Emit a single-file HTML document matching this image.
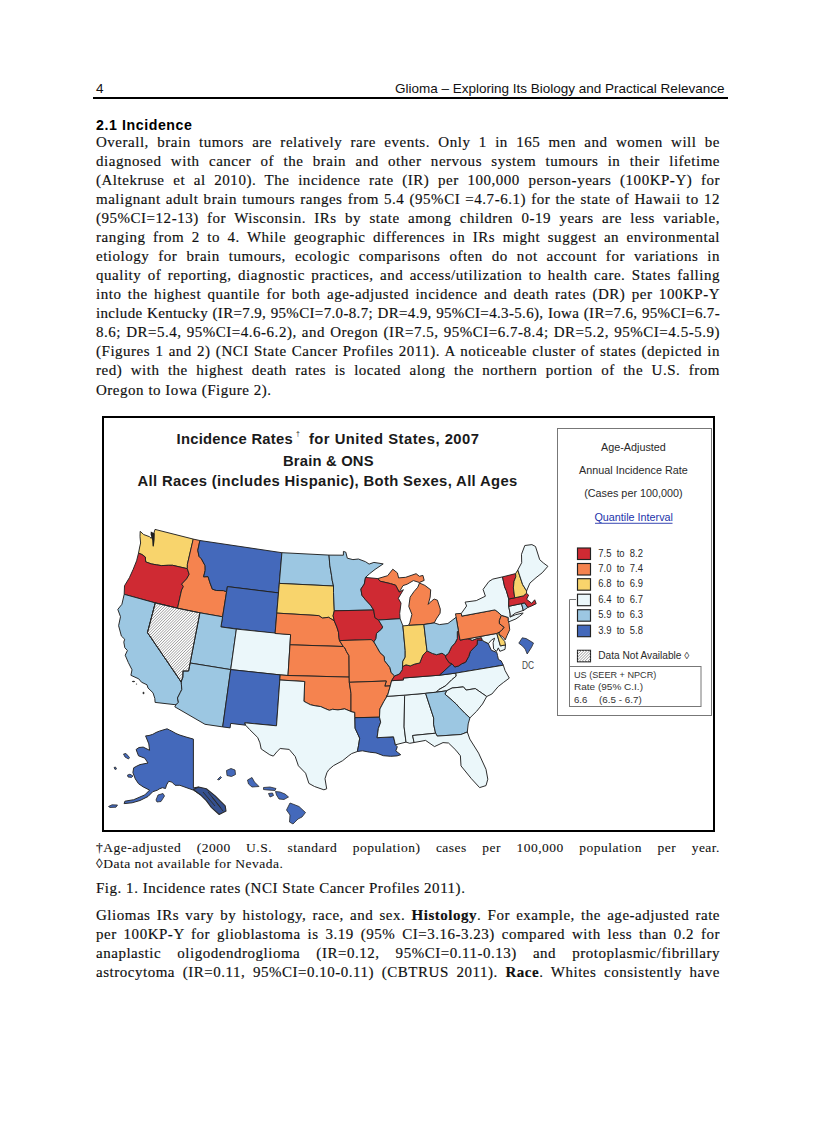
<!DOCTYPE html>
<html><head><meta charset="utf-8">
<style>
html,body{margin:0;padding:0;background:#fff;}
body{width:816px;height:1123px;position:relative;overflow:hidden;}
.a{position:absolute;white-space:nowrap;}
.hdr{font-family:"Liberation Sans",sans-serif;font-size:13.5px;color:#111;}
.rule{position:absolute;left:93px;top:97px;width:635px;height:1.8px;background:#000;}
.h2{font-family:"Liberation Sans",sans-serif;font-weight:bold;font-size:14.2px;letter-spacing:0.57px;}
.body{-webkit-text-stroke:0.15px #000;font-family:"Liberation Serif",serif;font-size:15.0px;letter-spacing:0.52px;color:#111;}
.j{position:absolute;left:96px;width:624px;white-space:nowrap;text-align:justify;text-align-last:justify;}
.fn{-webkit-text-stroke:0.08px #000;font-family:"Liberation Serif",serif;font-size:13.5px;letter-spacing:0.5px;color:#111;}
.fig{position:absolute;left:102px;top:416px;width:612.5px;height:416px;box-sizing:border-box;border:2px solid #000;}
svg{position:absolute;left:0;top:0;}
</style></head><body>
<div class="a hdr" style="left:96px;top:80.5px;">4</div>
<div class="a hdr" style="left:395px;top:81.2px;">Glioma – Exploring Its Biology and Practical Relevance</div>
<div class="rule"></div>
<div class="a h2" style="left:96px;top:116.5px;">2.1 Incidence</div>
<div class="body">
<div class="j" style="top:133.73px;">Overall, brain tumors are relatively rare events. Only 1 in 165 men and women will be</div>
<div class="j" style="top:152.79px;">diagnosed with cancer of the brain and other nervous system tumours in their lifetime</div>
<div class="j" style="top:171.85px;">(Altekruse et al 2010). The incidence rate (IR) per 100,000 person-years (100KP-Y) for</div>
<div class="j" style="top:190.91px;">malignant adult brain tumours ranges from 5.4 (95%CI =4.7-6.1) for the state of Hawaii to 12</div>
<div class="j" style="top:209.97px;">(95%CI=12-13) for Wisconsin. IRs by state among children 0-19 years are less variable,</div>
<div class="j" style="top:229.03px;">ranging from 2 to 4. While geographic differences in IRs might suggest an environmental</div>
<div class="j" style="top:248.09px;">etiology for brain tumours, ecologic comparisons often do not account for variations in</div>
<div class="j" style="top:267.15px;">quality of reporting, diagnostic practices, and access/utilization to health care. States falling</div>
<div class="j" style="top:286.21px;">into the highest quantile for both age-adjusted incidence and death rates (DR) per 100KP-Y</div>
<div class="j" style="top:305.27px;letter-spacing:0.34px;">include Kentucky (IR=7.9, 95%CI=7.0-8.7; DR=4.9, 95%CI=4.3-5.6), Iowa (IR=7.6, 95%CI=6.7-</div>
<div class="j" style="top:324.33px;">8.6; DR=5.4, 95%CI=4.6-6.2), and Oregon (IR=7.5, 95%CI=6.7-8.4; DR=5.2, 95%CI=4.5-5.9)</div>
<div class="j" style="top:343.39px;">(Figures 1 and 2) (NCI State Cancer Profiles 2011). A noticeable cluster of states (depicted in</div>
<div class="j" style="top:362.45px;">red) with the highest death rates is located along the northern portion of the U.S. from</div>
<div class="a" style="top:381.51px;left:96px;">Oregon to Iowa (Figure 2).</div>
</div>
<div class="fig"></div>
<svg width="816" height="1123" viewBox="0 0 816 1123">
<defs>
<pattern id="hatch" patternUnits="userSpaceOnUse" width="2" height="4" patternTransform="rotate(45) scale(1.0)">
<rect width="2" height="4" fill="#fff"/><rect width="0.8" height="4" fill="#8c8c8c"/>
</pattern>
</defs>
<g stroke="#222" stroke-width="0.95" stroke-linejoin="round">
<path fill="#f8d46c" d="M140.2,531.3 143.6,534.5 149.5,536.7 151.2,538.3 153.3,535.2 155.0,529.4 193.3,539.1 187.4,564.3 187.3,568.7 172.6,565.3 168.2,565.3 161.3,565.6 156.3,564.8 151.2,563.9 145.7,561.9 145.3,557.0 141.9,554.5 138.5,553.2 139.7,547.0 140.6,543.0 140.0,536.5 140.2,531.3Z"/>
<path fill="#cf2a33" d="M138.5,553.2 141.9,554.5 145.3,557.0 145.7,561.9 151.2,563.9 156.3,564.8 161.3,565.6 168.2,565.3 172.6,565.3 187.3,568.7 189.2,574.3 186.6,578.9 181.7,584.1 183.4,586.6 181.6,590.0 177.5,608.2 155.3,602.9 124.2,594.3 124.5,585.8 129.4,577.7 133.2,569.3 136.6,560.8 138.5,553.2Z"/>
<path fill="#9cc7e2" d="M124.2,594.3 155.3,602.9 147.5,632.6 181.3,682.1 181.4,684.2 181.8,689.5 180.4,692.3 177.5,698.0 178.4,702.3 176.0,704.8 155.1,702.4 154.8,698.4 153.0,692.8 148.0,688.0 147.0,684.8 141.5,682.2 138.8,678.9 130.9,675.3 132.0,669.8 128.3,662.5 125.2,655.2 127.4,650.5 124.8,647.7 123.8,642.1 124.7,639.2 121.4,636.1 118.6,625.7 120.5,616.7 117.8,609.4 121.9,604.3 124.2,594.3Z"/>
<path fill="url(#hatch)" d="M155.3,602.9 177.5,608.2 199.9,612.8 188.6,671.0 183.0,671.0 182.8,677.2 181.4,681.1 181.3,682.1 147.5,632.6Z"/>
<path fill="#f5834f" d="M193.2,539.1 199.9,540.5 197.8,550.3 199.0,556.3 201.4,558.8 205.1,565.7 205.2,570.4 203.6,576.8 208.1,576.6 209.9,582.6 212.4,589.2 216.7,590.5 223.4,590.6 226.6,591.7 222.6,616.8 199.9,612.8 177.5,608.2 181.6,590.0 183.4,586.6 181.7,584.1 186.6,578.9 189.2,574.3 187.3,568.7 187.4,564.3Z"/>
<path fill="#4469bb" d="M199.9,540.5 281.9,552.7 278.5,592.9 227.4,586.6 226.6,591.7 223.4,590.6 216.7,590.5 212.4,589.2 209.9,582.6 208.1,576.6 203.6,576.8 205.2,570.4 205.1,565.7 201.4,558.8 199.0,556.3 197.8,550.3Z"/>
<path fill="#4469bb" d="M227.4,586.6 278.5,592.9 276.8,613.1 275.1,633.5 220.9,626.9 222.6,616.8 226.6,591.7Z"/>
<path fill="#9cc7e2" d="M199.9,612.8 222.6,616.8 220.9,626.9 236.4,629.1 230.7,669.6 190.1,663.0Z"/>
<path fill="#ebf7fa" d="M236.4,629.1 290.6,634.6 288.0,675.5 280.2,674.9 230.7,669.6Z"/>
<path fill="#9cc7e2" d="M190.1,663.0 230.7,669.6 222.7,726.9 205.0,724.3 174.8,706.8 176.0,704.8 178.4,702.3 177.5,698.0 180.4,692.3 181.8,689.5 181.4,684.2 181.3,682.1 181.4,681.1 182.8,677.2 183.0,671.0 188.6,671.0Z"/>
<path fill="#4469bb" d="M230.7,669.6 280.2,674.9 279.8,680.0 276.5,725.8 244.8,722.8 245.6,725.2 230.7,723.4 230.1,727.9 222.7,726.9Z"/>
<path fill="#9cc7e2" d="M281.9,552.7 329.0,555.1 329.8,565.2 331.5,575.2 332.2,580.3 333.5,586.0 279.3,583.4Z"/>
<path fill="#f8d46c" d="M279.3,583.4 333.5,586.0 333.5,592.5 334.3,610.8 333.1,615.8 334.3,620.9 328.6,617.3 322.5,618.1 318.7,615.6 276.8,613.1Z"/>
<path fill="#f5834f" d="M276.8,613.1 318.7,615.6 322.5,618.1 328.6,617.3 334.3,620.9 336.9,627.1 338.5,632.2 338.9,637.3 339.5,640.6 343.3,646.5 290.0,644.8 290.6,634.6 275.1,633.5Z"/>
<path fill="#f5834f" d="M290.0,644.8 343.3,646.5 344.9,648.0 346.5,651.6 349.0,655.7 349.2,677.1 288.0,675.5Z"/>
<path fill="#f5834f" d="M280.2,674.9 288.0,675.5 349.2,677.1 349.3,682.3 351.0,693.5 351.0,711.5 344.7,708.9 337.9,709.9 332.7,709.3 329.3,710.3 324.2,708.2 320.8,706.6 315.6,705.9 310.6,704.8 307.2,703.1 303.9,701.3 304.7,681.5 279.8,680.0Z"/>
<path fill="#ebf7fa" d="M279.8,680.0 304.7,681.5 303.9,701.3 307.2,703.1 310.6,704.8 315.6,705.9 320.8,706.6 324.2,708.2 329.3,710.3 332.7,709.3 337.9,709.9 344.7,708.9 351.0,711.5 354.8,712.3 354.9,717.7 355.1,728.2 357.4,733.2 359.7,738.2 358.6,745.3 357.4,751.5 351.6,753.6 348.9,755.6 342.6,760.7 333.4,765.7 328.8,769.7 326.9,772.7 325.0,778.7 326.7,788.8 323.9,789.8 314.5,786.5 308.9,783.4 305.6,773.2 298.4,765.8 295.2,756.5 289.2,749.4 280.2,748.5 277.3,751.3 273.3,756.1 269.8,754.8 261.2,749.0 259.9,742.8 257.7,737.5 249.6,729.5 245.6,725.2 244.8,722.8 276.5,725.8Z"/>
<path fill="#9cc7e2" d="M329.0,555.1 343.4,555.2 343.4,551.4 345.8,552.2 347.3,558.2 352.9,559.6 358.4,559.0 365.5,561.7 369.1,564.1 373.9,562.4 383.2,563.9 375.1,569.4 369.6,573.7 365.5,577.4 364.3,584.0 360.9,589.1 361.9,595.2 365.0,599.2 370.5,605.1 373.7,610.0 334.3,610.8 333.5,592.5 333.5,586.0 332.2,580.3 331.5,575.2 329.8,565.2Z"/>
<path fill="#cf2a33" d="M334.3,610.8 373.7,610.0 374.9,617.6 378.5,620.0 382.7,626.9 381.7,629.0 376.5,633.4 376.0,638.5 373.9,641.9 371.2,639.6 339.5,640.6 338.9,637.3 338.5,632.2 336.9,627.1 334.3,620.9 333.1,615.8Z"/>
<path fill="#f5834f" d="M339.5,640.6 371.2,639.6 373.9,641.9 377.3,647.7 380.0,652.6 384.3,656.5 384.5,660.6 389.9,667.5 391.1,672.5 394.6,675.9 391.6,680.7 390.3,685.9 384.8,686.2 386.3,681.0 349.3,682.3 349.2,677.1 349.0,655.7 346.5,651.6 344.9,648.0 343.3,646.5Z"/>
<path fill="#f5834f" d="M349.3,682.3 386.3,681.0 384.8,686.2 390.3,685.9 387.6,695.3 383.8,701.6 379.9,709.0 379.5,717.2 354.9,717.7 354.8,712.3 351.0,711.5 351.0,693.5Z"/>
<path fill="#4469bb" d="M354.9,717.7 379.5,717.2 380.7,722.2 378.4,728.4 377.1,737.7 393.5,736.8 395.4,744.8 397.3,746.8 395.8,750.9 400.7,754.7 397.1,755.9 390.7,756.3 383.4,755.7 376.0,752.9 369.6,752.2 362.4,750.8 357.4,751.5 358.6,745.3 359.7,738.2 357.4,733.2 355.1,728.2Z"/>
<path fill="#ebf7fa" d="M386.0,696.4 403.7,695.2 404.6,696.2 404.1,726.9 406.0,742.1 395.4,744.8 393.5,736.8 377.1,737.7 378.4,728.4 380.7,722.2 379.5,717.2 379.9,709.0 383.8,701.6 387.6,695.3Z"/>
<path fill="#ebf7fa" d="M403.7,695.2 425.6,693.3 433.7,718.1 433.6,724.2 435.6,733.2 412.6,735.5 414.1,742.5 409.7,743.3 406.0,742.1 404.1,726.9 404.6,696.2Z"/>
<path fill="#ebf7fa" d="M387.6,695.3 386.0,696.4 403.7,695.2 425.6,693.3 436.3,692.2 438.7,689.7 445.8,685.7 451.7,679.8 456.2,676.1 455.9,673.1 439.5,675.2 403.3,678.0 403.5,679.9 391.6,680.7 390.3,685.9Z"/>
<path fill="#cf2a33" d="M391.6,680.7 403.5,679.9 403.3,678.0 439.5,675.2 452.0,663.8 449.1,662.6 445.9,657.8 445.6,655.6 442.0,653.2 436.5,654.7 432.3,653.4 427.0,650.9 422.8,655.3 419.7,663.0 414.9,664.0 410.2,665.9 406.0,664.8 402.5,666.6 402.3,669.7 399.4,674.0 394.6,675.9 394.6,675.9Z"/>
<path fill="#4469bb" d="M439.5,675.2 455.9,673.1 503.3,665.2 501.2,660.9 498.4,659.4 497.5,655.4 496.8,652.4 491.4,650.3 489.2,645.6 488.4,643.6 484.7,641.7 482.4,640.4 477.4,639.9 477.1,644.7 474.4,647.2 470.3,651.6 468.7,656.5 465.6,662.2 461.7,663.8 458.7,665.9 454.8,667.0 452.0,663.8Z"/>
<path fill="#cf2a33" d="M445.6,655.6 445.9,657.8 449.1,662.6 452.0,663.8 454.8,667.0 458.7,665.9 461.7,663.8 465.6,662.2 468.7,656.5 470.3,651.6 474.4,647.2 477.1,644.7 477.4,639.9 482.4,640.4 481.4,637.6 476.8,638.5 472.3,640.3 468.1,638.7 460.0,640.1 458.4,630.8 457.3,631.6 457.3,638.6 455.0,643.1 451.6,646.7 448.5,653.3Z"/>
<path fill="#ebf7fa" d="M468.1,638.7 496.8,633.4 500.4,645.9 505.5,644.9 505.0,649.4 499.9,651.3 498.3,647.9 496.6,651.4 493.6,648.9 493.1,642.7 494.6,638.2 491.6,639.9 488.4,643.6 484.7,641.7 482.4,640.4 481.4,637.6 476.8,638.5 472.3,640.3Z"/>
<path fill="#f8d46c" d="M496.8,633.4 499.5,632.0 498.9,634.2 500.8,636.9 504.7,641.4 505.5,644.9 500.4,645.9Z"/>
<path fill="#f5834f" d="M455.5,613.8 461.3,613.4 461.8,616.1 494.9,609.9 497.3,611.5 501.4,615.3 499.4,620.5 499.4,623.6 504.2,627.3 501.7,630.4 499.5,632.0 496.8,633.4 468.1,638.7 460.0,640.1 458.4,630.8 456.1,617.3Z"/>
<path fill="#f5834f" d="M501.4,615.3 508.3,617.5 508.3,620.6 509.0,623.6 509.7,629.8 507.0,635.6 505.2,639.9 503.4,637.4 498.9,634.2 499.5,632.0 501.7,630.4 504.2,627.3 499.4,623.6 499.4,620.5Z"/>
<path fill="#ebf7fa" d="M461.8,616.1 461.3,613.4 466.6,606.0 465.1,602.1 476.3,600.6 485.4,596.2 483.1,589.4 488.9,581.5 492.8,579.1 502.5,576.9 504.6,586.8 506.3,590.6 508.8,599.0 508.7,606.3 510.2,613.9 510.2,617.0 515.6,614.7 522.4,613.1 523.2,613.2 519.3,616.5 515.9,618.9 508.6,621.9 508.3,620.6 508.3,617.5 501.4,615.3 497.3,611.5 494.9,609.9Z"/>
<path fill="#ebf7fa" d="M508.7,606.3 521.5,603.6 523.3,610.4 515.2,613.2 510.2,617.0 510.2,613.9Z"/>
<path fill="#9cc7e2" d="M521.5,603.6 524.6,602.8 527.9,607.4 523.0,610.8 523.3,610.4Z"/>
<path fill="#cf2a33" d="M508.7,606.3 508.8,599.0 514.7,597.8 523.3,595.9 526.5,593.3 528.6,595.1 526.6,599.3 531.7,603.3 534.7,599.8 536.2,603.7 531.7,605.9 527.9,607.4 524.6,602.8 521.5,603.6Z"/>
<path fill="#cf2a33" d="M502.5,576.9 515.6,573.6 515.8,576.8 514.0,581.4 513.4,587.9 514.7,597.8 508.8,599.0 506.3,590.6 504.6,586.8Z"/>
<path fill="#f8d46c" d="M515.6,573.6 517.8,570.0 522.6,584.5 526.6,590.9 526.5,593.3 523.3,595.9 514.7,597.8 513.4,587.9 514.0,581.4 515.8,576.8Z"/>
<path fill="#ebf7fa" d="M517.8,570.0 521.7,562.7 521.5,554.3 524.8,545.5 531.9,544.6 535.5,546.5 539.7,559.7 543.3,562.9 547.9,566.3 542.2,572.8 536.0,577.7 529.9,583.1 526.6,590.9 522.6,584.5Z"/>
<path fill="#f5834f" d="M408.5,625.4 423.9,624.5 434.2,622.9 436.3,618.9 440.1,613.2 440.3,609.1 437.4,600.2 434.2,599.1 431.5,601.0 428.2,604.4 430.2,597.0 430.7,589.8 424.9,585.4 419.5,583.0 417.8,587.2 413.9,591.7 410.1,597.2 408.8,606.5 411.9,614.4 409.8,622.8 408.5,625.4ZM377.8,578.6 387.6,575.7 392.8,569.2 397.4,572.9 398.6,577.9 405.7,577.3 416.1,573.7 419.4,576.3 422.9,575.4 424.2,580.4 419.4,582.5 413.4,580.6 407.2,584.2 403.0,585.6 399.2,592.1 395.6,585.2 390.4,583.6 380.1,581.2Z"/>
<path fill="#cf2a33" d="M365.5,577.4 377.8,578.6 380.1,581.2 390.4,583.6 395.6,585.2 399.2,592.1 403.4,589.7 398.3,598.3 401.0,603.1 399.7,613.5 400.1,618.7 378.5,620.0 374.9,617.6 373.7,610.0 370.5,605.1 365.0,599.2 361.9,595.2 360.9,589.1 364.3,584.0Z"/>
<path fill="#9cc7e2" d="M378.5,620.0 400.1,618.7 402.9,625.9 405.2,650.4 405.2,657.1 402.8,661.4 402.5,666.6 402.3,669.7 399.4,674.0 394.6,675.9 391.1,672.5 389.9,667.5 384.5,660.6 384.3,656.5 380.0,652.6 377.3,647.7 373.9,641.9 376.0,638.5 376.5,633.4 381.7,629.0 382.7,626.9Z"/>
<path fill="#f8d46c" d="M402.9,625.9 408.5,625.4 423.9,624.5 427.0,650.9 422.8,655.3 419.7,663.0 414.9,664.0 410.2,665.9 406.0,664.8 402.5,666.6 402.8,661.4 405.2,657.1 405.2,650.4Z"/>
<path fill="#9cc7e2" d="M423.9,624.5 434.2,622.9 439.5,624.6 447.9,623.5 456.1,617.3 458.4,630.8 457.3,631.6 457.3,638.6 455.0,643.1 451.6,646.7 448.5,653.3 445.6,655.6 442.0,653.2 436.5,654.7 432.3,653.4 427.0,650.9Z"/>
<path fill="#ebf7fa" d="M436.3,692.2 446.6,690.8 452.1,688.0 463.4,686.9 466.1,690.1 475.3,688.6 486.7,696.5 491.9,694.0 498.2,686.6 503.4,682.5 509.3,678.1 505.1,670.6 503.3,665.2 455.9,673.1 456.2,676.1 451.7,679.8 445.8,685.7 438.7,689.7Z"/>
<path fill="#ebf7fa" d="M444.9,694.1 446.6,690.8 452.1,688.0 463.4,686.9 466.1,690.1 475.3,688.6 486.7,696.5 482.5,704.0 476.7,711.2 469.9,717.9 464.7,713.1 459.4,707.6 456.2,704.0 452.2,700.4Z"/>
<path fill="#9cc7e2" d="M425.6,693.3 436.3,692.2 446.6,690.8 444.9,694.1 452.2,700.4 456.2,704.0 459.4,707.6 464.7,713.1 469.9,717.9 468.2,723.9 467.3,732.0 462.6,733.9 460.9,734.5 437.2,736.1 435.6,733.2 433.6,724.2 433.7,718.1Z"/>
<path fill="#ebf7fa" d="M412.6,735.5 435.6,733.2 437.2,736.1 460.9,734.5 462.6,733.9 467.3,732.0 469.8,739.1 478.6,753.1 486.0,769.3 487.8,779.2 486.0,785.6 479.6,787.6 471.4,778.7 461.0,765.9 460.4,755.8 455.9,750.2 448.5,743.0 443.0,742.6 434.5,746.6 425.6,740.4 414.1,742.5Z"/>
<clipPath id="nvclip"><path d="M155.3,602.9 177.5,608.2 199.9,612.8 188.6,671.0 183.0,671.0 182.8,677.2 181.4,681.1 181.3,682.1 147.5,632.6Z"/></clipPath><g clip-path="url(#nvclip)"><path fill="#fff" d="M155.3,602.9 177.5,608.2 199.9,612.8 188.6,671.0 183.0,671.0 182.8,677.2 181.4,681.1 181.3,682.1 147.5,632.6Z"/><path stroke="#8a8a8a" stroke-width="0.85" fill="none" d="M130.00,590 L25.00,695 M132.83,590 L27.83,695 M135.66,590 L30.66,695 M138.49,590 L33.49,695 M141.32,590 L36.32,695 M144.15,590 L39.15,695 M146.98,590 L41.98,695 M149.81,590 L44.81,695 M152.64,590 L47.64,695 M155.47,590 L50.47,695 M158.30,590 L53.30,695 M161.13,590 L56.13,695 M163.96,590 L58.96,695 M166.79,590 L61.79,695 M169.62,590 L64.62,695 M172.45,590 L67.45,695 M175.28,590 L70.28,695 M178.11,590 L73.11,695 M180.94,590 L75.94,695 M183.77,590 L78.77,695 M186.60,590 L81.60,695 M189.43,590 L84.43,695 M192.26,590 L87.26,695 M195.09,590 L90.09,695 M197.92,590 L92.92,695 M200.75,590 L95.75,695 M203.58,590 L98.58,695 M206.41,590 L101.41,695 M209.24,590 L104.24,695 M212.07,590 L107.07,695 M214.90,590 L109.90,695 M217.73,590 L112.73,695 M220.56,590 L115.56,695 M223.39,590 L118.39,695 M226.22,590 L121.22,695 M229.05,590 L124.05,695 M231.88,590 L126.88,695 M234.71,590 L129.71,695 M237.54,590 L132.54,695 M240.37,590 L135.37,695 M243.20,590 L138.20,695 M246.03,590 L141.03,695 M248.86,590 L143.86,695 M251.69,590 L146.69,695 M254.52,590 L149.52,695 M257.35,590 L152.35,695 M260.18,590 L155.18,695 M263.01,590 L158.01,695 M265.84,590 L160.84,695 M268.67,590 L163.67,695 M271.50,590 L166.50,695 M274.33,590 L169.33,695 M277.16,590 L172.16,695 M279.99,590 L174.99,695 M282.82,590 L177.82,695 M285.65,590 L180.65,695 M288.48,590 L183.48,695 M291.31,590 L186.31,695 M294.14,590 L189.14,695 M296.97,590 L191.97,695 M299.80,590 L194.80,695 M302.63,590 L197.63,695 M305.46,590 L200.46,695 M308.29,590 L203.29,695 M311.12,590 L206.12,695 M313.95,590 L208.95,695 "/></g><path fill="none" stroke="#222" stroke-width="0.95" d="M155.3,602.9 177.5,608.2 199.9,612.8 188.6,671.0 183.0,671.0 182.8,677.2 181.4,681.1 181.3,682.1 147.5,632.6Z"/>
</g>
<g stroke="#2a2a2a" stroke-width="0.8" stroke-linejoin="round" fill="#4469bb">
<path stroke-width="1" d="M145.6,735.9 149,735.5 152.8,734.3 156,732.5 159.2,731.2 163,730 167.1,728.8 169.5,730 171.9,731.2 176,733.5 179.9,735.1 186,737 193.4,739.1 193.4,787.9 198.6,787 204.6,795.6 200.3,794.7 193.4,790.1 186,787.5 179.9,785.3 175.1,785.3 171.9,782.1 168.7,781.3 166.5,785 165.5,788.5 162.4,787.7 159,789 157.6,790.1 152.8,791.7 148,796.5 140,800.5 132.1,802.8 124.1,803.6 124.9,801.2 133.7,799.7 144.8,794.9 149.6,790.1 143.2,786.9 138.5,783.7 135.3,778.9 132.9,772.6 133.7,767.8 137,766 140,764.6 148,763 144.8,758.2 138.5,755.8 136.1,749.5 139,747.5 143.2,747.1 149.6,750.3 148.8,743.9Z"/>
<path fill="#35508f" stroke-width="1.1" d="M193.4,789.6 198.6,787 206.3,788.7 214.9,795.6 225.2,805.9 226,811 219.2,814.5 211.5,807.6 206.3,800.7 200.3,794.7Z"/>
<path fill="none" stroke-width="0.9" d="M208,792 221,808 M212,797 223,811 M203,792 215,806"/>
<path d="M156,800 158,795 163,793.5 164.5,796 161,801.5 157,802Z"/>
<path d="M108.5,806.5 112,804.8 117.5,805 116,807.2 110,807.5Z"/>
<path d="M123.5,754 126,753.5 129.5,757.5 128.5,759 125,757Z"/>
<path d="M127.5,775 130,774.2 133,776 131.5,777.5 128,777Z"/>
<path d="M114,767.5 115.5,767 116.5,769 115,769.5Z"/>
<path d="M226.5,770.5 231,768.5 235,770 235.5,774.5 231.5,776.5 227,775.5Z"/>
<path d="M217.5,779.5 220.5,776.5 221.5,777.5 219,780Z"/>
<path d="M247.5,780 252,777.5 254.5,782 259,786.5 252,787 248.5,784Z"/>
<path d="M263.5,787.5 270,787 276,788.5 275,790.5 268,790 263.5,789.5Z"/>
<path d="M268.5,793.5 272.5,793 273.5,795.5 270,797Z"/>
<path d="M275.5,791.5 280,792 285,794 288.5,797 284,799.5 279,799 276.5,795Z"/>
<path d="M290,803 294,804.5 299,806.5 305.5,812.5 302,817 298,819 293,824 289.5,822 290,815 286.5,810Z"/>
<path d="M518.8,643.2 522.3,637.8 526.2,638.6 533.5,643 531.6,647.2 527.2,654 525.2,649.1 522.7,646.2Z"/>
</g>
<g font-family="Liberation Sans, sans-serif" fill="#2a2a2a">
<text x="528" y="669.2" font-size="10" text-anchor="middle" fill="#444" textLength="12" lengthAdjust="spacingAndGlyphs">DC</text>
</g>
<g font-family="Liberation Sans, sans-serif" font-weight="bold" font-size="14.8" fill="#1a1a1a">
<text x="176.6" y="443.7" textLength="116.1" lengthAdjust="spacing">Incidence Rates</text>
<text x="296" y="436" font-size="7" font-weight="normal" letter-spacing="0">†</text>
<text x="308.9" y="443.7" textLength="170.1" lengthAdjust="spacing">for United States, 2007</text>
<text x="283" y="465.7" textLength="90.6" lengthAdjust="spacing">Brain &amp; ONS</text>
<text x="137.4" y="485.7" textLength="379.9" lengthAdjust="spacing">All Races (includes Hispanic), Both Sexes, All Ages</text>
</g>
<rect x="557.5" y="428.5" width="154" height="287" fill="none" stroke="#777" stroke-width="1"/>
<g font-family="Liberation Sans, sans-serif" font-size="10.8" fill="#2a2a2a" text-anchor="middle">
<text x="633.4" y="451.3">Age-Adjusted</text>
<text x="633.4" y="474.3">Annual Incidence Rate</text>
<text x="633.4" y="497.3">(Cases per 100,000)</text>
<text x="633.7" y="520.8" fill="#2233aa">Quantile Interval</text>
</g>
<rect x="595" y="522.8" width="77.5" height="0.9" fill="#2233aa"/>
<g stroke="#222" stroke-width="1.15">
<rect x="577.5" y="548" width="13" height="11.5" fill="#cf2a33"/>
<rect x="577.5" y="563.5" width="13" height="11.5" fill="#f5834f"/>
<rect x="577.5" y="578.7" width="13" height="11.5" fill="#f8d46c"/>
<rect x="577.5" y="594.2" width="13" height="11.5" fill="#ebf7fa"/>
<rect x="577.5" y="609.7" width="13" height="11.5" fill="#9cc7e2"/>
<rect x="577.5" y="625.2" width="13" height="11.5" fill="#4469bb"/>
<rect x="577.5" y="650.3" width="13" height="11.5" fill="#fff"/>
</g>
<g font-family="Liberation Sans, sans-serif" font-size="10" fill="#2a2a2a">
<text x="598.3" y="556.7" textLength="44.6" lengthAdjust="spacingAndGlyphs" xml:space="preserve">7.5  to  8.2</text>
<text x="598.3" y="572.2" textLength="44.6" lengthAdjust="spacingAndGlyphs" xml:space="preserve">7.0  to  7.4</text>
<text x="598.3" y="587.4" textLength="44.6" lengthAdjust="spacingAndGlyphs" xml:space="preserve">6.8  to  6.9</text>
<text x="598.3" y="602.9" textLength="44.6" lengthAdjust="spacingAndGlyphs" xml:space="preserve">6.4  to  6.7</text>
<text x="598.3" y="618.4" textLength="44.6" lengthAdjust="spacingAndGlyphs" xml:space="preserve">5.9  to  6.3</text>
<text x="598.3" y="633.9" textLength="44.6" lengthAdjust="spacingAndGlyphs" xml:space="preserve">3.9  to  5.8</text>
<text x="598.3" y="659.2" textLength="91" lengthAdjust="spacingAndGlyphs">Data Not Available ◊</text>
</g>
<path d="M576,599.5 H569.5 V666.5" fill="none" stroke="#777" stroke-width="1"/>
<rect x="569.5" y="666.5" width="131.5" height="40" fill="none" stroke="#777" stroke-width="1"/>
<g font-family="Liberation Sans, sans-serif" font-size="9.6" fill="#333">
<text x="574" y="677.5" textLength="82.3" lengthAdjust="spacingAndGlyphs">US (SEER + NPCR)</text>
<text x="574" y="690" textLength="69" lengthAdjust="spacingAndGlyphs">Rate (95% C.I.)</text>
<text x="574" y="702.5">6.6</text><text x="599" y="702.5" textLength="42.7" lengthAdjust="spacingAndGlyphs">(6.5 - 6.7)</text>
</g>
<path fill="#1e1e1e" d="M150.8,531.5 154.8,533.5 154.6,539.5 153.8,546.5 152.6,546.3 152.2,540 150.6,534.5Z"/>
<g fill="#333"><ellipse cx="133.5" cy="681.5" rx="1.6" ry="0.7"/><ellipse cx="143.5" cy="693" rx="0.9" ry="1.2"/><ellipse cx="136.5" cy="684" rx="0.7" ry="0.5"/></g>
<clipPath id="lgclip"><rect x="577.5" y="650.3" width="13" height="11.5"/></clipPath><g clip-path="url(#lgclip)"><path stroke="#8a8a8a" stroke-width="0.85" fill="none" d="M570.00,645 L545.00,670 M572.83,645 L547.83,670 M575.66,645 L550.66,670 M578.49,645 L553.49,670 M581.32,645 L556.32,670 M584.15,645 L559.15,670 M586.98,645 L561.98,670 M589.81,645 L564.81,670 M592.64,645 L567.64,670 M595.47,645 L570.47,670 M598.30,645 L573.30,670 M601.13,645 L576.13,670 M603.96,645 L578.96,670 M606.79,645 L581.79,670 M609.62,645 L584.62,670 M612.45,645 L587.45,670 M615.28,645 L590.28,670 M618.11,645 L593.11,670 M620.94,645 L595.94,670 M623.77,645 L598.77,670 "/></g>
</svg>
<div class="fn">
<div class="j" style="top:839.77px;"><span style="display:inline-block">†Age-adjusted</span> (2000 U.S. standard population) cases per 100,000 population per year.</div>
<div class="a" style="left:96px;top:856.27px;">◊Data not available for Nevada.</div>
</div>
<div class="body">
<div class="a" style="left:96px;top:879.63px;">Fig. 1. Incidence rates (NCI State Cancer Profiles 2011).</div>
<div class="j" style="top:907.34px;">Gliomas IRs vary by histology, race, and sex. <b>Histology</b>. For example, the age-adjusted rate</div>
<div class="j" style="top:926.29px;">per 100KP-Y for glioblastoma is 3.19 (95% CI=3.16-3.23) compared with less than 0.2 for</div>
<div class="j" style="top:945.24px;">anaplastic oligodendroglioma (IR=0.12, 95%CI=0.11-0.13) and protoplasmic/fibrillary</div>
<div class="j" style="top:964.19px;">astrocytoma (IR=0.11, 95%CI=0.10-0.11) (CBTRUS 2011). <b>Race</b>. Whites consistently have</div>
</div>
</body></html>
